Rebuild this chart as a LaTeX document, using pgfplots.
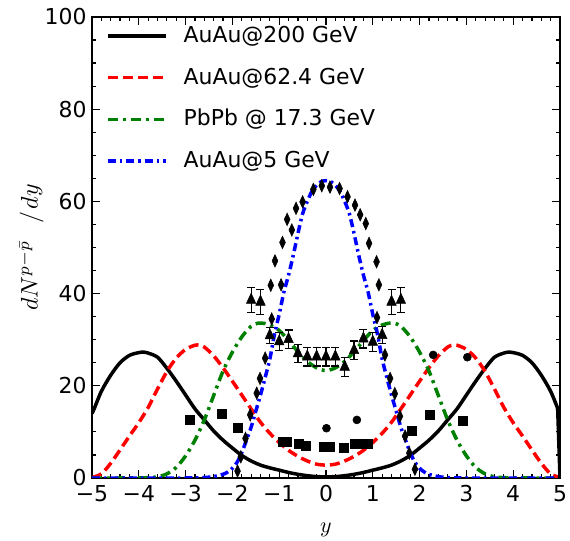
\documentclass[border=0pt]{standalone}
\usepackage{graphicx}
\usepackage{fontspec}
\setmainfont{DejaVu Sans}
\usepackage{pgfplots}
\pgfplotsset{compat=1.18}
\definecolor{mplgreen}{rgb}{0,0.5,0}
\begin{document}
\fontsize{22}{26}\selectfont
\begin{tikzpicture}
\begin{axis}[
  name=ax,
  scale only axis,
  width=468bp, height=461bp,
  xmin=-5, xmax=5, ymin=0, ymax=100,
  xtick={-5,-4,-3,-2,-1,0,1,2,3,4,5},
  xticklabels={−5,−4,−3,−2,−1,0,1,2,3,4,5},
  ytick={0,20,40,60,80,100},
  yticklabels={0,20,40,60,80,100},
  minor x tick num=4,
  minor y tick num=3,
  tick align=inside,
  major tick length=8bp,
  minor tick length=4bp,
  every tick/.style={black, line width=1.2bp},
  axis line style={line width=2bp},
  ticklabel style={font=\fontsize{22}{26}\selectfont},
  yticklabel style={xshift=2bp},
  xlabel={\scalebox{2.2}{$y$}},
  ylabel={\scalebox{2.4}{$dN^{p-\bar{p}}\hspace{7pt}/\hspace{1pt}dy$}},
  every axis x label/.style={at={(axis description cs:0.5,-0.119)}, anchor=base, font=\fontsize{10}{12}\selectfont},
  every axis y label/.style={at={(axis description cs:-0.130,0.5)}, rotate=90, anchor=center, font=\fontsize{10}{12}\selectfont},
  legend style={at={(0,1)}, anchor=north west, xshift=14bp, yshift=-8bp, draw=none, fill=none, inner sep=0pt, row sep=20bp, column sep=15bp, font=\fontsize{22}{26}\selectfont, nodes={inner sep=1bp}},
  legend cell align=left,
  legend image code/.code={\draw[#1] (0bp,0bp) -- (58bp,0bp);},
  every axis plot/.append style={line width=3.5bp},
]
% AuAu@200 GeV
\addplot[black, smooth] table {
x y
-5.0 14.0
-4.95 15.1
-4.8 18.8
-4.6 22.3
-4.4 25.0
-4.2 26.6
-4.0 27.2
-3.9 27.3
-3.8 27.1
-3.6 26.2
-3.4 23.8
-3.2 21.0
-3.0 18.0
-2.8 15.0
-2.6 12.6
-2.4 10.2
-2.2 8.2
-2.0 6.5
-1.8 4.9
-1.6 3.7
-1.4 2.8
-1.2 2.2
-1.0 1.7
-0.8 1.2
-0.6 0.8
-0.4 0.5
-0.2 0.3
0.0 0.25
0.2 0.3
0.4 0.5
0.6 0.8
0.8 1.2
1.0 1.7
1.2 2.2
1.4 2.8
1.6 3.7
1.8 4.9
2.0 6.5
2.2 8.2
2.4 10.2
2.6 12.6
2.8 15.0
3.0 18.0
3.2 21.0
3.4 23.8
3.6 26.2
3.8 27.1
3.9 27.3
4.0 27.2
4.2 26.6
4.4 25.0
4.6 22.3
4.8 18.8
4.95 15.1
};
\addlegendentry{AuAu@200 GeV}
% AuAu@62.4 GeV
\addplot[red, smooth, dash pattern=on 10bp off 5bp] table {
x y
-5.0 0.1
-4.8 0.9
-4.6 3.2
-4.4 6.1
-4.2 9.1
-4.0 12.0
-3.8 15.3
-3.6 19.3
-3.4 23.1
-3.2 26.0
-3.0 27.9
-2.8 28.8
-2.7 28.8
-2.6 28.4
-2.4 26.5
-2.2 23.9
-2.0 21.0
-1.8 18.0
-1.6 15.0
-1.4 12.1
-1.2 9.7
-1.0 7.7
-0.8 6.0
-0.6 4.7
-0.4 3.7
-0.2 3.0
0.0 2.8
0.2 3.0
0.4 3.7
0.6 4.7
0.8 6.0
1.0 7.7
1.2 9.7
1.4 12.1
1.6 15.0
1.8 18.0
2.0 21.0
2.2 23.9
2.4 26.5
2.6 28.4
2.7 28.8
2.8 28.8
3.0 27.9
3.2 26.0
3.4 23.1
3.6 19.3
3.8 15.3
4.0 12.0
4.2 9.1
4.4 6.1
4.6 3.2
4.8 0.9
5.0 0.1
};
\addlegendentry{AuAu@62.4 GeV}
% PbPb @ 17.3 GeV
\addplot[mplgreen, smooth, dash pattern=on 10bp off 5bp on 3bp off 5bp] table {
x y
-5.0 0
-4.4 0
-4.0 0.02
-3.8 0.08
-3.6 0.25
-3.4 0.9
-3.2 2.3
-3.0 4.8
-2.8 8.2
-2.6 12.6
-2.4 17.9
-2.2 23.2
-2.0 27.3
-1.8 30.6
-1.6 32.9
-1.45 33.6
-1.3 33.5
-1.2 33.2
-1.0 32.0
-0.8 29.8
-0.6 27.4
-0.4 25.3
-0.2 23.9
0.0 23.3
0.2 23.9
0.4 25.3
0.6 27.4
0.8 29.8
1.0 32.0
1.2 33.2
1.3 33.5
1.45 33.6
1.6 32.9
1.8 30.6
2.0 27.3
2.2 23.2
2.4 17.9
2.6 12.6
2.8 8.2
3.0 4.8
3.2 2.3
3.4 0.9
3.6 0.25
3.8 0.08
4.0 0.02
4.4 0
5.0 0
};
\addlegendentry{PbPb @ 17.3 GeV}
% AuAu@5 GeV
\addplot[blue, smooth, dash pattern=on 8bp off 4bp on 2.5bp off 4bp] table {
x y
-5.0 0
-3.0 0
-2.8 0.02
-2.6 0.1
-2.4 0.3
-2.2 0.8
-2.1 1.3
-2.0 2.1
-1.9 3.4
-1.8 5.5
-1.7 8.2
-1.6 11.0
-1.5 14.5
-1.4 18.0
-1.3 21.8
-1.2 25.8
-1.1 31.2
-1.0 35.5
-0.9 40.3
-0.8 44.0
-0.7 48.3
-0.6 53.0
-0.5 57.3
-0.4 60.0
-0.3 62.2
-0.2 63.5
-0.1 64.3
0.0 64.5
0.1 64.3
0.2 63.5
0.3 62.2
0.4 60.0
0.5 57.3
0.6 53.0
0.7 48.3
0.8 44.0
0.9 40.3
1.0 35.5
1.1 31.2
1.2 25.8
1.3 21.8
1.4 18.0
1.5 14.5
1.6 11.0
1.7 8.2
1.8 5.5
1.9 3.4
2.0 2.1
2.1 1.3
2.2 0.8
2.4 0.3
2.6 0.1
2.8 0.02
3.0 0
5.0 0
};
\addlegendentry{AuAu@5 GeV}
% end drop of the 200 GeV curve
\addplot[black, forget plot] table {
x y
4.95 15.1
5.0 0
};
% diamonds
\addplot[only marks, forget plot, mark=diamond*, mark size=6.3bp, mark options={xscale=0.62, fill=black, draw=black, line width=0.5bp}] table {
x y
-1.89 1.5
-1.82 4.6
-1.72 8.6
-1.62 13.7
-1.48 18.4
-1.41 21.6
-1.30 26.0
-1.16 34.5
-1.18 41.8
-1.09 47.1
-0.96 41.9
-0.93 51.1
-0.83 56.1
-0.73 53.8
-0.64 58.5
-0.50 59.9
-0.27 62.6
-0.09 63.4
0.085 63.1
0.29 62.8
0.46 61.0
0.62 59.2
0.73 57.1
0.85 55.2
0.92 50.9
1.08 46.9
1.13 41.9
1.09 34.8
1.26 26.7
1.37 21.6
1.47 18.3
1.58 13.4
1.69 9.1
1.78 5.4
1.90 1.9
};
% triangles with error bars
\addplot[only marks, forget plot, black, mark=triangle*, mark size=5.5bp, mark options={yscale=1.25, line width=0.5bp},
  error bars/.cd, y dir=both, y explicit,
  error bar style={line width=1.2bp, solid},
  error mark options={rotate=90, mark size=4bp, line width=1.2bp, solid}]
  table[x=x, y=y, y error=e] {
x y e
-1.6 38.6 2.7
-1.4 38.2 2.7
-1.2 30.9 1.8
-1.0 29.6 2.0
-0.8 30.1 2.0
-0.6 27.0 2.0
-0.4 26.3 2.0
-0.2 26.3 2.0
0.0 26.3 2.0
0.2 26.3 2.0
0.4 24.1 2.0
0.6 27.7 2.0
0.8 30.2 2.0
1.0 29.5 2.0
1.2 31.0 1.8
1.4 38.2 2.7
1.6 38.6 2.7
};
% squares
\addplot[only marks, forget plot, black, mark=square*, mark size=4.5bp, mark options={line width=0.5bp}] table {
x y
-2.92 12.6
-2.23 13.9
-1.88 10.9
-0.93 7.9
-0.83 7.9
-0.59 7.5
-0.43 6.9
-0.05 6.7
0.09 6.8
0.38 6.6
0.62 7.5
0.76 7.5
0.90 7.5
1.83 10.3
2.22 13.7
2.92 12.4
};
% circles
\addplot[only marks, forget plot, black, mark=*, mark size=4bp, mark options={line width=0.5bp}] table {
x y
0.01 10.8
0.66 12.6
2.29 26.7
3.02 26.2
};
\end{axis}
\pgfresetboundingbox
\path[use as bounding box] ([xshift=-92bp,yshift=-63bp]ax.south west) rectangle ([xshift=10bp,yshift=17bp]ax.north east);
\end{tikzpicture}
\end{document}
